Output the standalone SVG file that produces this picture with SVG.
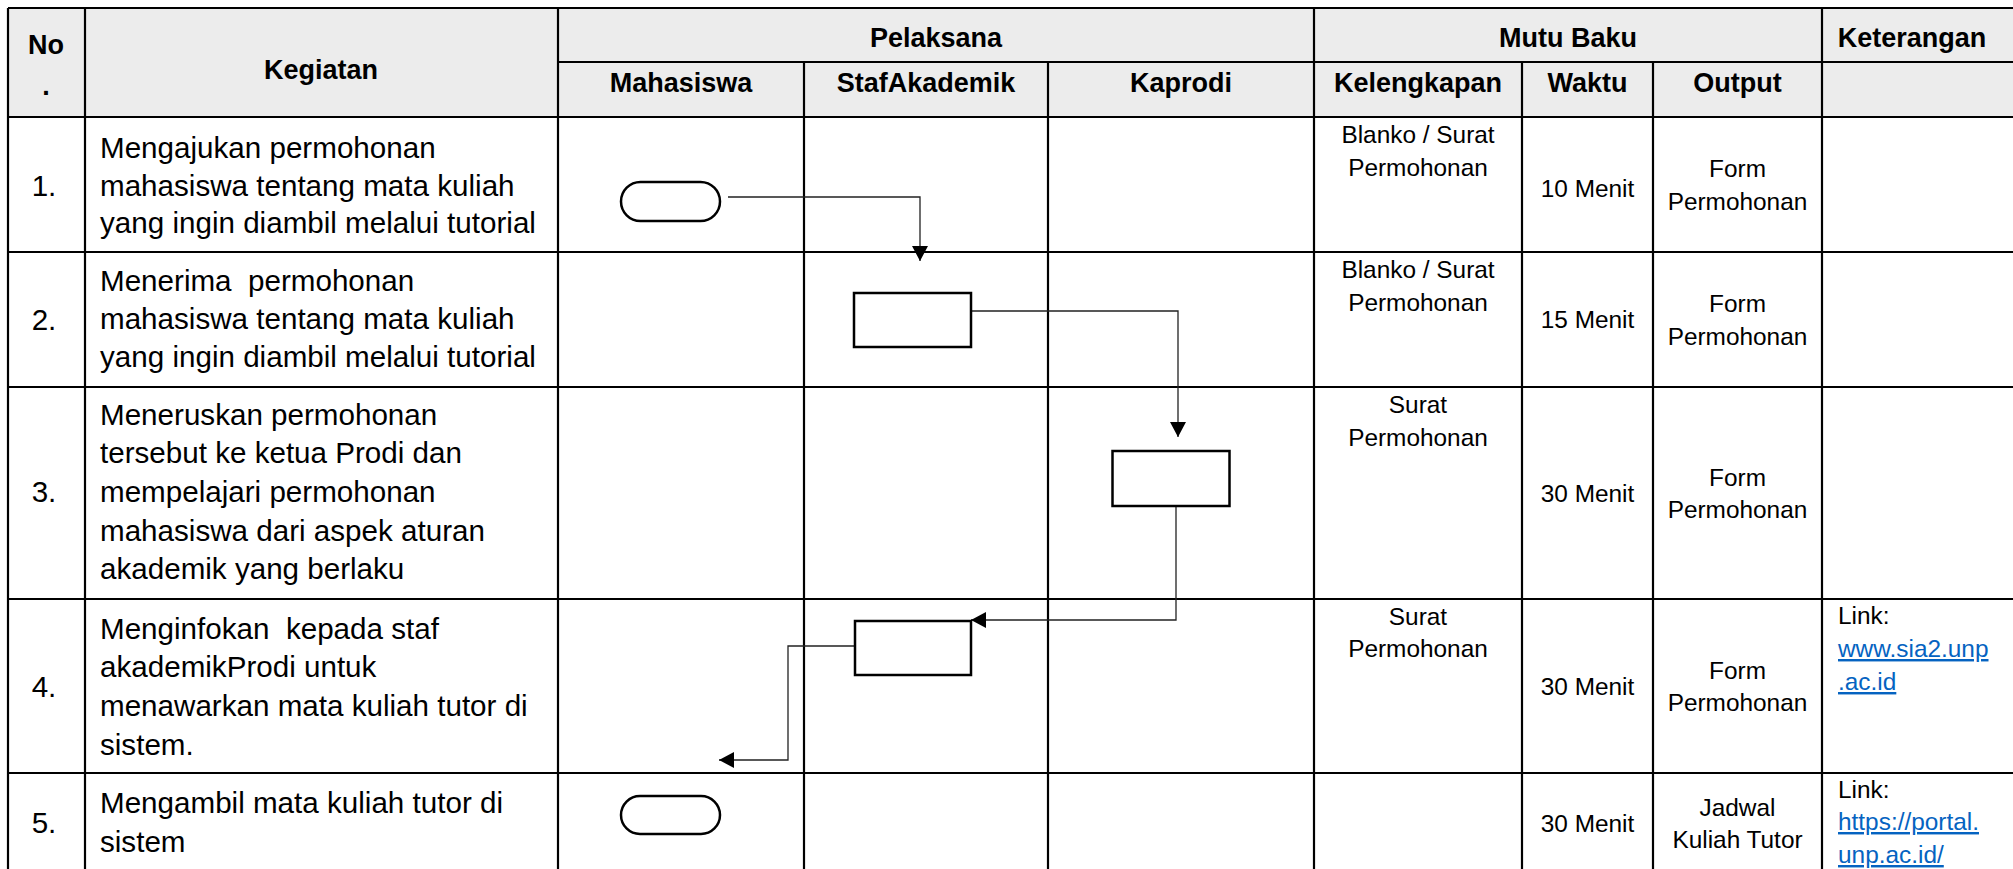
<svg xmlns="http://www.w3.org/2000/svg" width="2013" height="869" viewBox="0 0 2013 869">
<style>
.grid{stroke:#000;stroke-width:2.2;fill:none}
.hd{font-family:"Liberation Sans",Arial,sans-serif;font-weight:bold;font-size:27px;fill:#000;text-anchor:middle}
.tx{font-family:"Liberation Sans",Arial,sans-serif;font-size:29.6px;fill:#000}
.num{font-family:"Liberation Sans",Arial,sans-serif;font-size:29.6px;fill:#000;text-anchor:middle}
.sm{font-family:"Liberation Sans",Arial,sans-serif;font-size:24.4px;fill:#000;text-anchor:middle}
.lk{font-family:"Liberation Sans",Arial,sans-serif;font-size:24.4px;fill:#000}
.url{fill:#0563C1;text-decoration:underline}
.shape{fill:#fff;stroke:#000;stroke-width:2.5}
.conn{fill:none;stroke:#222;stroke-width:1.3}
</style>
<defs>
<marker id="arrow" markerUnits="userSpaceOnUse" markerWidth="16" markerHeight="16" refX="15" refY="8" orient="auto">
<path d="M0,0 L15,8 L0,16 Z" fill="#000"/>
</marker>
</defs>
<rect width="2013" height="869" fill="#fff"/>
<g id="table">
<rect x="8" y="8" width="2005" height="109" fill="#ececec"/>
<path class="grid" d="M8,8H2013 M558,62H2013 M8,117H2013 M8,252H2013 M8,387H2013 M8,599H2013 M8,773H2013 M8,8V869 M85,8V869 M558,8V869 M1314,8V869 M1822,8V869 M804,62V869 M1048,62V869 M1522,62V869 M1653,62V869"/>
</g>
<g id="header">
<text class="hd" x="46" y="54">No</text>
<text class="hd" x="46" y="95">.</text>
<text class="hd" x="321" y="79">Kegiatan</text>
<text class="hd" x="936" y="47">Pelaksana</text>
<text class="hd" x="1568" y="47">Mutu Baku</text>
<text class="hd" x="1912" y="47">Keterangan</text>
<text class="hd" x="681" y="92">Mahasiswa</text>
<text class="hd" x="926" y="92">StafAkademik</text>
<text class="hd" x="1181" y="92">Kaprodi</text>
<text class="hd" x="1418" y="92">Kelengkapan</text>
<text class="hd" x="1587.5" y="92">Waktu</text>
<text class="hd" x="1737.5" y="92">Output</text>
</g>
<g id="row1">
<text class="num" x="44" y="196">1.</text>
<text class="tx" x="100" y="158">Mengajukan permohonan</text>
<text class="tx" x="100" y="196">mahasiswa tentang mata kuliah</text>
<text class="tx" x="100" y="233">yang ingin diambil melalui tutorial</text>
<text class="sm" x="1418" y="143">Blanko / Surat</text>
<text class="sm" x="1418" y="176">Permohonan</text>
<text class="sm" x="1587.5" y="197">10 Menit</text>
<text class="sm" x="1737.5" y="177">Form</text>
<text class="sm" x="1737.5" y="210">Permohonan</text>
</g>
<g id="row2">
<text class="num" x="44" y="330">2.</text>
<text class="tx" x="100" y="291" xml:space="preserve">Menerima  permohonan</text>
<text class="tx" x="100" y="329">mahasiswa tentang mata kuliah</text>
<text class="tx" x="100" y="367">yang ingin diambil melalui tutorial</text>
<text class="sm" x="1418" y="278">Blanko / Surat</text>
<text class="sm" x="1418" y="311">Permohonan</text>
<text class="sm" x="1587.5" y="328">15 Menit</text>
<text class="sm" x="1737.5" y="312">Form</text>
<text class="sm" x="1737.5" y="345">Permohonan</text>
</g>
<g id="row3">
<text class="num" x="44" y="502">3.</text>
<text class="tx" x="100" y="425">Meneruskan permohonan</text>
<text class="tx" x="100" y="463">tersebut ke ketua Prodi dan</text>
<text class="tx" x="100" y="502">mempelajari permohonan</text>
<text class="tx" x="100" y="541">mahasiswa dari aspek aturan</text>
<text class="tx" x="100" y="579">akademik yang berlaku</text>
<text class="sm" x="1418" y="413">Surat</text>
<text class="sm" x="1418" y="446">Permohonan</text>
<text class="sm" x="1587.5" y="502">30 Menit</text>
<text class="sm" x="1737.5" y="486">Form</text>
<text class="sm" x="1737.5" y="518">Permohonan</text>
</g>
<g id="row4">
<text class="num" x="44" y="697">4.</text>
<text class="tx" x="100" y="639" xml:space="preserve">Menginfokan  kepada staf</text>
<text class="tx" x="100" y="677">akademikProdi untuk</text>
<text class="tx" x="100" y="716">menawarkan mata kuliah tutor di</text>
<text class="tx" x="100" y="755">sistem.</text>
<text class="sm" x="1418" y="625">Surat</text>
<text class="sm" x="1418" y="657">Permohonan</text>
<text class="sm" x="1587.5" y="695">30 Menit</text>
<text class="sm" x="1737.5" y="679">Form</text>
<text class="sm" x="1737.5" y="711">Permohonan</text>
<text class="lk" x="1838" y="624">Link:</text>
<text class="lk url" x="1838" y="657">www.sia2.unp</text>
<text class="lk url" x="1838" y="690">.ac.id</text>
</g>
<g id="row5">
<text class="num" x="44" y="833">5.</text>
<text class="tx" x="100" y="813">Mengambil mata kuliah tutor di</text>
<text class="tx" x="100" y="852">sistem</text>
<text class="sm" x="1587.5" y="832">30 Menit</text>
<text class="sm" x="1737.5" y="816">Jadwal</text>
<text class="sm" x="1737.5" y="848">Kuliah Tutor</text>
<text class="lk" x="1838" y="798">Link:</text>
<text class="lk url" x="1838" y="830">https://portal.</text>
<text class="lk url" x="1838" y="863">unp.ac.id/</text>
</g>
<g id="connectors">
<path class="conn" d="M728,197 H920 V261" marker-end="url(#arrow)"/>
<path class="conn" d="M971,311 H1178 V437" marker-end="url(#arrow)"/>
<path class="conn" d="M1176,506 V620 H971" marker-end="url(#arrow)"/>
<path class="conn" d="M855,646 H788 V760 H719" marker-end="url(#arrow)"/>
</g>
<g id="node-start">
<rect class="shape" x="621" y="182" width="99" height="39" rx="19.5"/>
</g>
<g id="node-terima">
<rect class="shape" x="854" y="293" width="117" height="54"/>
</g>
<g id="node-teruskan">
<rect class="shape" x="1112.5" y="451" width="117" height="55"/>
</g>
<g id="node-infokan">
<rect class="shape" x="855" y="621" width="116" height="54"/>
</g>
<g id="node-end">
<rect class="shape" x="621" y="796" width="99" height="38" rx="19"/>
</g>
</svg>
